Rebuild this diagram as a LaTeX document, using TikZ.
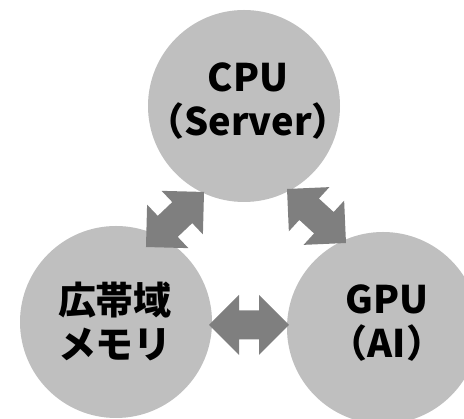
\documentclass[tikz,border=0pt]{standalone}
\usepackage{fontspec}
\setmainfont{Noto Sans CJK JP}
\definecolor{circgray}{HTML}{BFBFBF}
\definecolor{arrgray}{HTML}{7F7F7F}
\tikzset{
  bubble/.style={circle, fill=circgray, draw=none, minimum size=192pt, inner sep=0pt},
  lbl/.style={align=center, font=\fontsize{38}{44}\selectfont\bfseries, text=black, inner sep=0pt},
  dblarrow/.style={fill=arrgray, draw=none}
}
\newcommand{\blockarrow}[3]{%
  \fill[dblarrow, shift={(#1,#2)}, rotate=#3]
    (-40,0) -- (-10,30) -- (-10,14.5) -- (10,14.5) -- (10,30) -- (40,0)
    -- (10,-30) -- (10,-14.5) -- (-10,-14.5) -- (-10,-30) -- cycle;}
\begin{document}
\begin{tikzpicture}[x=1pt, y=1pt]
  \useasboundingbox (0,0) rectangle (464,419);
  \clip (0,0) rectangle (464,419);
  \node[bubble] (cpu) at (244,313) {};
  \node[bubble] (mem) at (116,97) {};
  \node[bubble] (gpu) at (383,91) {};
  \node[lbl] (cputxt) at (248,318) {CPU\\（Server）};
  \node[lbl] (memtxt) at (115,98) {広帯域\\メモリ};
  \node[lbl] (gputxt) at (387,96) {GPU\\（AI）};
  \blockarrow{175}{199.5}{43.5}
  \blockarrow{316.5}{203}{-42.5}
  \blockarrow{249}{94}{0}
\end{tikzpicture}
\end{document}
